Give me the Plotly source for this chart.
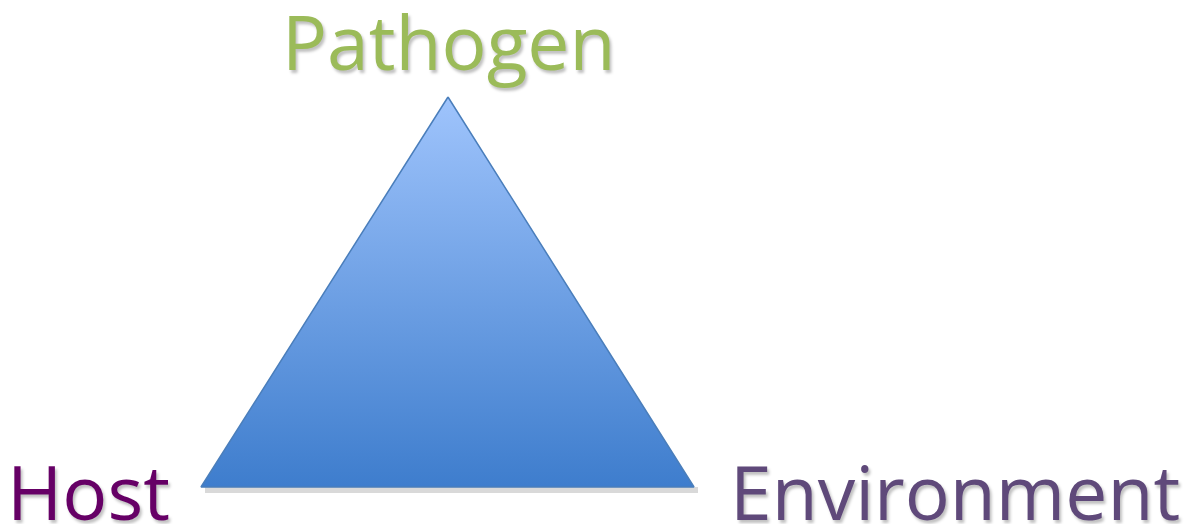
import plotly.graph_objects as go

# Epidemiological triangle: vertices in page pixel units (y measured from top)
vertex_x = [448, 201, 694]
vertex_y = [97, 487, 487]
labels = ["Pathogen", "Host", "Environment"]

fig = go.Figure()

# soft shadow under the triangle
fig.add_trace(go.Scatter(
    x=[vertex_x[1] + 4, vertex_x[2] + 4, vertex_x[1] + 4],
    y=[vertex_y[1] + 3, vertex_y[2] + 3, vertex_y[1] + 3],
    mode="lines",
    line=dict(color="rgba(0,0,0,0.15)", width=6),
    hoverinfo="skip",
    showlegend=False,
))

fig.add_trace(go.Scatter(
    x=vertex_x + [vertex_x[0]],
    y=vertex_y + [vertex_y[0]],
    mode="lines",
    fill="toself",
    fillgradient=dict(
        type="vertical",
        colorscale=[[0, "#3e7dcd"], [1, "#9fc4fc"]],
    ),
    line=dict(color="#4a7ebb", width=1.5),
    hoverinfo="skip",
    showlegend=False,
))

shadow = "2px 3px 3px rgba(0,0,0,0.25)"
label_colors = ["#9bbb59", "#660066", "#5f497a"]
label_pos = [(448, 41, "center"), (5, 491, "left"), (728, 491, "left")]

for name, col, (px, py, anchor) in zip(labels, label_colors, label_pos):
    fig.add_annotation(
        x=px, y=py, text=name, showarrow=False,
        xanchor=anchor, yanchor="middle",
        font=dict(family="Open Sans", size=75, color=col, shadow=shadow),
    )

fig.update_layout(
    width=1185, height=524,
    margin=dict(l=0, r=0, t=0, b=0),
    paper_bgcolor="white",
    plot_bgcolor="white",
    xaxis=dict(range=[0, 1185], visible=False, fixedrange=True),
    yaxis=dict(range=[524, 0], visible=False, fixedrange=True),
)

fig.write_html(
    "out.html",
    config={"displayModeBar": False},
    post_script="document.body.style.margin='0';document.body.style.overflow='hidden';",
)
